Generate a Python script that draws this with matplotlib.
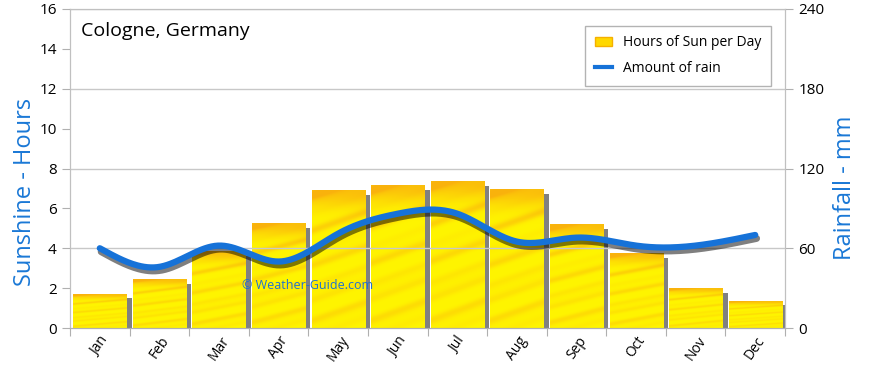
import numpy as np
import matplotlib
matplotlib.use("Agg")
import matplotlib.pyplot as plt
from matplotlib.patches import Rectangle, Patch
from matplotlib.lines import Line2D
import matplotlib.patheffects as pe

months = ["Jan", "Feb", "Mar", "Apr", "May", "Jun", "Jul", "Aug", "Sep", "Oct", "Nov", "Dec"]
sun_hours = [1.7, 2.45, 3.85, 5.25, 6.9, 7.15, 7.35, 6.95, 5.2, 3.75, 2.0, 1.35]
rain_mm = [60, 46, 62, 50, 71, 86, 86, 65, 68, 62, 62, 70]

plt.rcParams['font.family'] = ['Open Sans', 'DejaVu Sans']

fig = plt.figure(figsize=(8.7, 3.68), dpi=100)
ax = fig.add_axes([70/870, 40/368, 715/870, 319/368])
ax2 = ax.twinx()

x = np.arange(len(months))

# texture for bars
h, w = 200, 60
yy, xx = np.mgrid[0:h, 0:w]
d = (yy + 0.45 * xx) / h
streak = 0.5 + 0.5 * np.sin(d * 38.0) * np.sin(d * 11.0 + 1.3)
streak = np.clip(streak, 0, 1) ** 3
topband = np.exp(-((yy / h) / 0.12) ** 2)
amt = np.clip(0.55 * streak + 0.8 * topband, 0, 1)
yellow = np.array([1.0, 0.96, 0.0])
orange = np.array([0.98, 0.70, 0.05])
tex = yellow[None, None, :] * (1 - amt[..., None]) + orange[None, None, :] * amt[..., None]

bw = 0.89
for i, v in enumerate(sun_hours):
    x0 = i - bw / 2
    ax.add_patch(Rectangle((x0 + bw, 0), 0.09, v - 0.22, facecolor="#808080",
                           edgecolor="none", zorder=1))
    ax.imshow(tex, extent=(x0, x0 + bw, 0, v), aspect="auto", zorder=2,
              interpolation="bilinear", origin="upper")
ax.set_xlim(-0.5, 11.5)
ax.set_ylim(0, 16)
ax2.set_ylim(0, 240)

# smooth line via natural cubic spline
def natural_spline(xs, ys, n=400):
    xs = np.asarray(xs, float); ys = np.asarray(ys, float)
    N = len(xs)
    hs = np.diff(xs)
    A = np.zeros((N, N)); b = np.zeros(N)
    A[0, 0] = 1; A[-1, -1] = 1
    for k in range(1, N - 1):
        A[k, k - 1] = hs[k - 1]; A[k, k] = 2 * (hs[k - 1] + hs[k]); A[k, k + 1] = hs[k]
        b[k] = 3 * ((ys[k + 1] - ys[k]) / hs[k] - (ys[k] - ys[k - 1]) / hs[k - 1])
    c = np.linalg.solve(A, b)
    bb = np.zeros(N - 1); dd = np.zeros(N - 1)
    for k in range(N - 1):
        bb[k] = (ys[k + 1] - ys[k]) / hs[k] - hs[k] * (2 * c[k] + c[k + 1]) / 3
        dd[k] = (c[k + 1] - c[k]) / (3 * hs[k])
    xf = np.linspace(xs[0], xs[-1], n)
    idx = np.clip(np.searchsorted(xs, xf) - 1, 0, N - 2)
    t = xf - xs[idx]
    yf = ys[idx] + bb[idx] * t + c[idx] * t ** 2 + dd[idx] * t ** 3
    return xf, yf

xf, yf = natural_spline(x, rain_mm)
ax2.plot(xf, yf, color="#1672D8", lw=4.5, solid_capstyle="round", zorder=5,
         path_effects=[pe.SimpleLineShadow(offset=(1, -2.5), shadow_color="black", alpha=0.5, linewidth=5),
                       pe.Normal()])

for gv in [60, 120, 180, 240]:
    ax2.axhline(gv, color="#c8c8c8", lw=1, zorder=0)
ax.set_zorder(1)
ax2.set_zorder(2)
ax2.patch.set_visible(False)
ax.set_facecolor("white")

ax.set_xticks(np.arange(-0.5, 12, 1), minor=False)
ax.set_xticklabels([])
ax.set_xticks(x, minor=True)
ax.set_xticklabels(months, minor=True, rotation=55, fontsize=10, ha="center", va="top")
ax.tick_params(axis="x", which="minor", length=0, pad=4)
ax.tick_params(axis="x", which="major", length=6, color="#b0b0b0")
ax.set_yticks(np.arange(0, 17, 2))
ax.tick_params(axis="y", length=6, color="#b0b0b0", labelsize=11)
ax2.set_yticks([0, 60, 120, 180, 240])
ax2.tick_params(axis="y", length=6, color="#b0b0b0", labelsize=11)

for a in (ax, ax2):
    for s in a.spines.values():
        s.set_color("#c0c0c0")
    a.spines["bottom"].set_color("#b0b0b0")

ax.set_ylabel("Sunshine - Hours", color="#1A78D6", fontsize=17)
ax.yaxis.set_label_coords(-0.046, 0.426)
ax2.set_ylabel("Rainfall - mm", color="#1A78D6", fontsize=17)
ax2.yaxis.set_label_coords(1.067, 0.44)

ax.text(0.015, 0.93, "Cologne, Germany", transform=ax.transAxes, fontsize=14,
        color="black", va="center", ha="left", zorder=10)
ax.text(0.24, 0.133, "\u00a9 Weather-Guide.com", transform=ax.transAxes, fontsize=9,
        color="#2070D0", va="center", ha="left", zorder=10)

handles = [Patch(facecolor="#FFD800", edgecolor="#F5B000"),
           Line2D([0], [0], color="#1672D8", lw=3)]
leg = ax2.legend(handles, ["Hours of Sun per Day", "Amount of rain"], loc="upper right",
                 bbox_to_anchor=(0.99, 0.97), fontsize=10, frameon=True, fancybox=False,
                 edgecolor="#a0a0a0", handlelength=1.2, borderpad=0.7, labelspacing=0.8)
leg.get_frame().set_linewidth(1)

fig.savefig("out.png", dpi=100)
